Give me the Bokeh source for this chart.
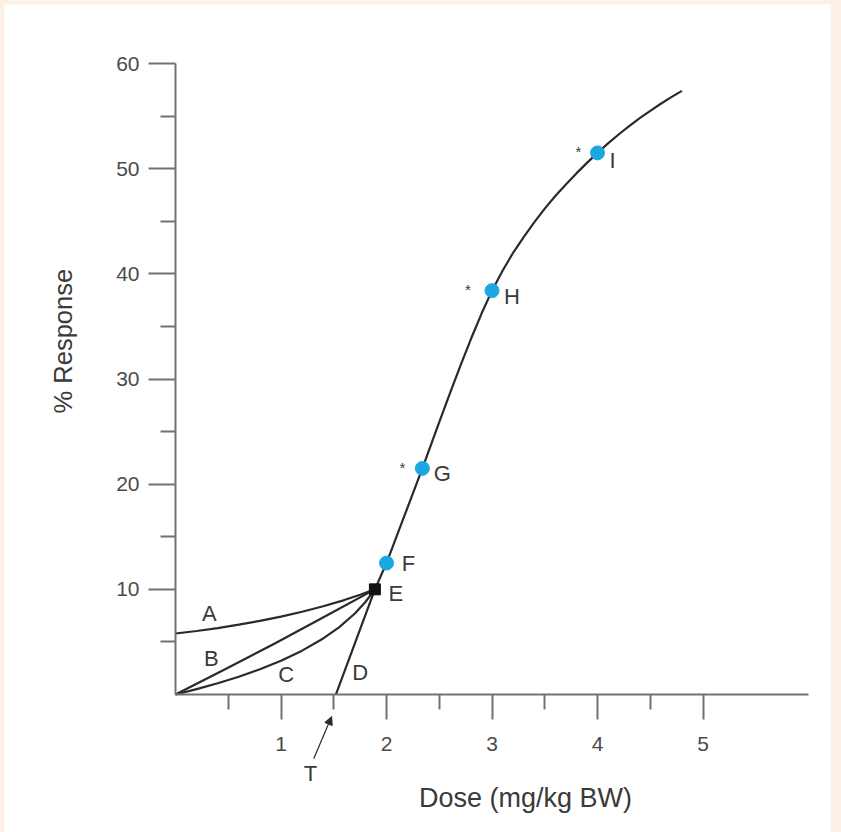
import math
from bokeh.plotting import figure
from bokeh.models import Range1d, FixedTicker, ColumnDataSource, Arrow, NormalHead
from bokeh.core.properties import value
from bokeh.embed import file_html
from bokeh.resources import INLINE

# ---------------- data ----------------
# main dose-response curve, starting at the threshold T (segment D) through E, F, G, H, I
main_x = [1.52, 1.89, 2.00, 2.17, 2.34, 2.50, 2.60, 2.70, 2.80, 2.90, 3.00, 3.10, 3.20, 3.30,
          3.40, 3.50, 3.60, 3.70, 3.80, 3.90, 4.00, 4.10, 4.20, 4.30, 4.40, 4.50, 4.60, 4.70, 4.80]
main_y = [0.0, 10.0, 12.5, 17.0, 21.5, 25.9, 28.6, 31.25, 33.8, 36.2, 38.4, 40.3, 42.0, 43.5,
          44.9, 46.2, 47.4, 48.5, 49.55, 50.55, 51.5, 52.4, 53.25, 54.05, 54.8, 55.5, 56.17, 56.8, 57.4]

# low-dose extrapolation curves A, B, C (all ending at point E)
curve_a_x = [0.0, 0.2, 0.4, 0.6, 0.8, 1.0, 1.2, 1.4, 1.6, 1.75, 1.89]
curve_a_y = [5.8, 6.04, 6.32, 6.64, 7.0, 7.41, 7.87, 8.39, 8.98, 9.49, 10.0]
curve_b_x = [0.0, 0.47, 0.95, 1.42, 1.89]
curve_b_y = [0.0, 2.4, 4.9, 7.45, 10.0]
curve_c_x = [0.0, 0.2, 0.4, 0.6, 0.8, 1.0, 1.2, 1.4, 1.55, 1.7, 1.8, 1.89]
curve_c_y = [0.0, 0.51, 1.07, 1.69, 2.40, 3.21, 4.17, 5.33, 6.39, 7.70, 8.80, 10.0]

# observed points
point_names = ["F", "G", "H", "I"]
point_x = [2.00, 2.34, 3.00, 4.00]
point_y = [12.5, 21.5, 38.4, 51.5]
point_star = ["", "*", "*", "*"]

e_name = ["E"]
e_x = [1.89]
e_y = [10.0]

threshold_name = ["T"]
threshold_dose = 1.5

curve_names = ["A", "B", "C", "D"]

x_title = "Dose (mg/kg BW)"
y_title = "% Response"

x_ticks = [1, 2, 3, 4, 5]
x_minor = [0.5, 1.5, 2.5, 3.5, 4.5]
y_ticks = [10, 20, 30, 40, 50, 60]
y_minor = [5, 15, 25, 35, 45, 55]

# ---------------- styling ----------------
FONT = "Liberation Sans"
AXIS_COL = "#727272"
LINE_COL = "#2a2a2a"
TEXT_COL = "#3a3a3a"
DOT_COL = "#1ba8e2"

# the frame fills the whole canvas; both axes are drawn at the data origin
p = figure(width=827, height=828, output_backend="svg", toolbar_location=None,
           x_range=Range1d(-1.621, 6.218), y_range=Range1d(-13.12, 65.61),
           min_border=0,
           background_fill_color="white", border_fill_color="white",
           outline_line_color=None)
p.grid.visible = False

xa = p.xaxis[0]
ya = p.yaxis[0]
xa.fixed_location = 0
ya.fixed_location = 0
xa.bounds = (0, 6)
ya.bounds = (0, 60)
xa.ticker = FixedTicker(ticks=x_ticks, minor_ticks=x_minor)
ya.ticker = FixedTicker(ticks=y_ticks, minor_ticks=y_minor)
for ax in (xa, ya):
    ax.axis_line_color = AXIS_COL
    ax.axis_line_width = 2
    ax.major_tick_line_color = AXIS_COL
    ax.major_tick_line_width = 2
    ax.minor_tick_line_color = AXIS_COL
    ax.minor_tick_line_width = 2
    ax.major_tick_in = 0
    ax.minor_tick_in = 0
    ax.minor_tick_out = 15
    ax.major_label_text_font = FONT
    ax.major_label_text_font_size = "21px"
    ax.major_label_text_color = "#4a4a4a"
xa.major_tick_out = 25
ya.major_tick_out = 27
xa.major_label_standoff = 17
ya.major_label_standoff = 9

# axis titles
p.text(x=[3.318], y=[-9.8], text=[x_title],
       text_font=value(FONT), text_font_size="27px", text_color=TEXT_COL,
       text_align="center", text_baseline="middle")
p.text(x=[-1.062], y=[33.6], text=[y_title], angle=math.pi / 2,
       text_font=value(FONT), text_font_size="25.5px", text_color=TEXT_COL,
       text_align="center", text_baseline="middle")

# curves
p.line(curve_a_x, curve_a_y, line_color=LINE_COL, line_width=2.2)
p.line(curve_b_x, curve_b_y, line_color=LINE_COL, line_width=2.2)
p.line(curve_c_x, curve_c_y, line_color=LINE_COL, line_width=2.2)
p.line(main_x, main_y, line_color=LINE_COL, line_width=2.2)

# points
p.scatter(e_x, e_y, marker="square", size=11, fill_color="#111111", line_color="#111111")
p.scatter(point_x, point_y, marker="circle", size=14, fill_color=DOT_COL, line_color=DOT_COL)

# point labels
lab_src = ColumnDataSource(dict(x=point_x, y=point_y, t=point_names,
                                dx=[22, 20, 20, 15], dy=[0, 5, 6, 8]))
p.text(x="x", y="y", text="t", source=lab_src, x_offset="dx", y_offset="dy",
       text_font=value(FONT), text_font_size="22px", text_color=TEXT_COL,
       text_align="center", text_baseline="middle")
star_src = ColumnDataSource(dict(x=point_x, y=point_y, t=point_star,
                                 dx=[-20, -20, -24, -19]))
p.text(x="x", y="y", text="t", source=star_src, x_offset="dx", y_offset=-1,
       text_font=value(FONT), text_font_size="15px", text_color=TEXT_COL,
       text_align="center", text_baseline="middle")
p.text(x=e_x, y=e_y, text=e_name, x_offset=21, y_offset=4,
       text_font=value(FONT), text_font_size="22px", text_color=TEXT_COL,
       text_align="center", text_baseline="middle")

# curve labels
p.text(x=[0.32, 0.34, 1.05, 1.75], y=[7.7, 3.4, 1.9, 2.1], text=curve_names,
       text_font=value(FONT), text_font_size="22px", text_color=TEXT_COL,
       text_align="center", text_baseline="middle")

# threshold annotation
p.add_layout(Arrow(end=NormalHead(size=8, fill_color=LINE_COL, line_color=LINE_COL),
                   x_start=threshold_dose - 0.19, y_start=-6.1,
                   x_end=threshold_dose - 0.02, y_end=-2.1,
                   line_color=LINE_COL, line_width=1.2))
p.text(x=[threshold_dose - 0.22], y=[-7.5], text=threshold_name,
       text_font=value(FONT), text_font_size="22px", text_color=TEXT_COL,
       text_align="center", text_baseline="middle")

html = file_html(p, INLINE, title="Dose response")
html = html.replace("</head>",
                    "<style>html,body{background:#fdf0e6;} body{padding:4px 0 0 4px;}</style>\n</head>", 1)
open("out.html", "w").write(html)
